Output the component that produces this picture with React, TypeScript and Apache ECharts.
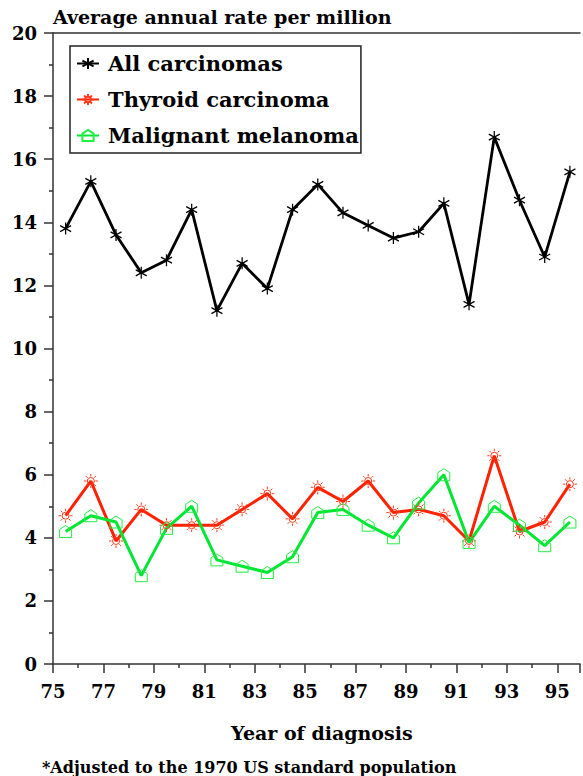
import React, { useEffect, useRef } from 'react';
import * as echarts from 'echarts';

const years = [1975, 1976, 1977, 1978, 1979, 1980, 1981, 1982, 1983, 1984, 1985, 1986, 1987, 1988, 1989, 1990, 1991, 1992, 1993, 1994, 1995];
const allCarcinomas = [13.8, 15.3, 13.6, 12.4, 12.8, 14.4, 11.2, 12.7, 11.9, 14.4, 15.2, 14.3, 13.9, 13.5, 13.7, 14.6, 11.4, 16.7, 14.7, 12.9, 15.6];
const thyroidCarcinoma = [4.7, 5.8, 3.9, 4.9, 4.4, 4.4, 4.4, 4.9, 5.4, 4.6, 5.6, 5.15, 5.8, 4.8, 4.9, 4.7, 3.9, 6.6, 4.2, 4.5, 5.7];
const malignantMelanoma = [4.2, 4.7, 4.5, 2.8, 4.3, 5.0, 3.3, 3.1, 2.9, 3.4, 4.8, 4.9, 4.4, 4.0, 5.1, 6.0, 3.85, 5.0, 4.4, 3.75, 4.5];
const xTickLabels = ['75', '77', '79', '81', '83', '85', '87', '89', '91', '93', '95'];
const seriesNames = ['All carcinomas', 'Thyroid carcinoma', 'Malignant melanoma'];

const FONT = 'DejaVu Serif';
const firstYear = years[0];

const asterisk = 'path://M0,-10L0,10M-8.66,-5L8.66,5M-8.66,5L8.66,-5';
const sun =
  'path://M3.5,0A3.5,3.5 0 1 1 -3.5,0A3.5,3.5 0 1 1 3.5,0ZM0,-4.6L0,-7M0,4.6L0,7M4.6,0L7,0M-4.6,0L-7,0M3.25,3.25L4.95,4.95M-3.25,-3.25L-4.95,-4.95M3.25,-3.25L4.95,-4.95M-3.25,3.25L-4.95,4.95';
const house = 'path://M0,-6L6,-2L6,6L-6,6L-6,-2Z';

function toPoints(values: number[]) {
  return values.map((v, i) => [years[i] - firstYear + 0.5, v]);
}

export default function App() {
  const ref = useRef<HTMLDivElement>(null);
  useEffect(() => {
    if (!ref.current) return;
    const chart = echarts.init(ref.current, undefined, { renderer: 'svg' });
    const axisColor = '#333';
    chart.setOption({
      animation: false,
      backgroundColor: '#fff',
      grid: { left: 53, right: 0, top: 33, bottom: 112 },
      xAxis: [
        {
          type: 'value',
          min: 0,
          max: 20.9,
          interval: 2,
          axisLine: { show: true, lineStyle: { color: axisColor, width: 1.5 } },
          axisTick: { show: true, inside: false, length: 9, lineStyle: { color: axisColor, width: 1.5 } },
          minorTick: { show: true, splitNumber: 2, length: 4, lineStyle: { color: axisColor, width: 1.5 } },
          splitLine: { show: false },
          axisLabel: {
            margin: 18,
            fontFamily: FONT,
            fontWeight: 'bold',
            fontSize: 18,
            color: '#000',
            formatter: (v: number) => (Number.isInteger(v) && v % 2 === 0 ? xTickLabels[v / 2] ?? '' : ''),
          },
        },
        {
          type: 'value',
          position: 'top',
          min: 0,
          max: 20.9,
          interval: 2,
          axisLine: { show: true, lineStyle: { color: axisColor, width: 1.5 } },
          axisTick: { show: false },
          axisLabel: { show: false },
          splitLine: { show: false },
        },
      ],
      yAxis: {
        type: 'value',
        min: 0,
        max: 20,
        interval: 2,
        axisLine: { show: true, lineStyle: { color: axisColor, width: 1.5 } },
        axisTick: { show: true, inside: false, length: 9, lineStyle: { color: axisColor, width: 1.5 } },
        minorTick: { show: true, splitNumber: 2, length: 4, lineStyle: { color: axisColor, width: 1.5 } },
        splitLine: { show: false },
        axisLabel: { margin: 16, fontFamily: FONT, fontWeight: 'bold', fontSize: 18, color: '#000' },
      },
      legend: {
        orient: 'vertical',
        left: 70,
        top: 46,
        data: seriesNames,
        borderColor: '#222',
        borderWidth: 1.5,
        padding: [7, 2, 7, 6],
        itemWidth: 22,
        itemHeight: 14,
        itemGap: 15,
        textStyle: { fontFamily: FONT, fontWeight: 'bold', fontSize: 21, color: '#000', padding: [0, 0, 0, 4] },
      },
      graphic: [
        {
          type: 'text',
          x: 53,
          y: 17,
          style: { text: 'Average annual rate per million', fontFamily: FONT, fontWeight: 'bold', fontSize: 19, fill: '#000', verticalAlign: 'middle' },
        },
        {
          type: 'text',
          x: 231,
          y: 733,
          style: { text: 'Year of diagnosis', fontFamily: FONT, fontWeight: 'bold', fontSize: 19, fill: '#000', verticalAlign: 'middle' },
        },
        {
          type: 'text',
          x: 42,
          y: 767,
          style: { text: '*Adjusted to the 1970 US standard population', fontFamily: FONT, fontWeight: 'bold', fontSize: 16, fill: '#000', verticalAlign: 'middle' },
        },
      ],
      series: [
        {
          name: seriesNames[0],
          type: 'line',
          data: toPoints(allCarcinomas),
          symbol: asterisk,
          symbolSize: [11, 12],
          lineStyle: { color: '#000', width: 2.8 },
          itemStyle: { color: 'transparent', borderColor: '#000', borderWidth: 1.3 },
        },
        {
          name: seriesNames[1],
          type: 'line',
          data: toPoints(thyroidCarcinoma),
          symbol: sun,
          symbolSize: 14,
          lineStyle: { color: '#ff2200', width: 3 },
          itemStyle: { color: 'transparent', borderColor: '#ff3a1a', borderWidth: 1 },
        },
        {
          name: seriesNames[2],
          type: 'line',
          data: toPoints(malignantMelanoma),
          symbol: house,
          symbolSize: 12,
          lineStyle: { color: '#00e632', width: 3 },
          itemStyle: { color: 'transparent', borderColor: '#22ee44', borderWidth: 1 },
        },
      ],
    });
    return () => chart.dispose();
  }, []);
  return <div ref={ref} style={{ position: 'fixed', left: 0, top: 0, width: 583, height: 776 }} />;
}
